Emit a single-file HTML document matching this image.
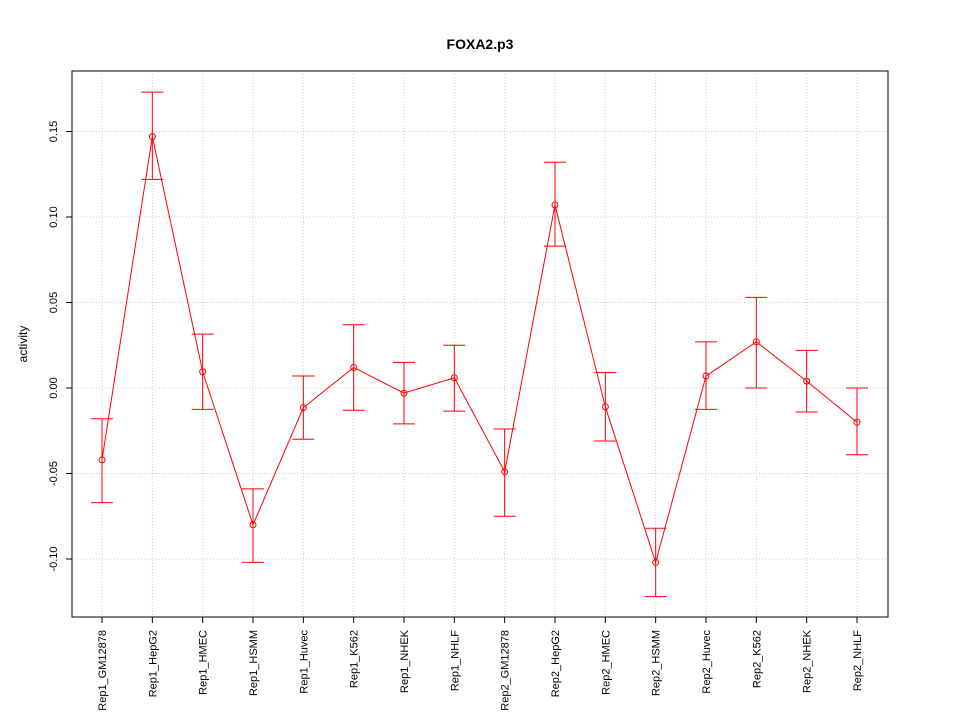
<!DOCTYPE html>
<html><head><meta charset="utf-8"><style>
html,body{margin:0;padding:0;background:#fff;}
svg{display:block;font-family:"Liberation Sans",Arial,sans-serif;}
</style></head><body>
<svg id="chart" width="960" height="720" viewBox="0 0 960 720">
<text x="480" y="49" text-anchor="middle" font-size="14" font-weight="bold">FOXA2.p3</text>
<text x="0" y="0" transform="translate(27,344) rotate(-90)" text-anchor="middle" font-size="12">activity</text>
<g id="grid"></g>
<g id="yaxis"></g>
<g id="xaxis"></g>
<g id="series"></g>
<rect x="72" y="71" width="816" height="546" fill="none" stroke="#000" stroke-width="1"/>
</svg>
<script>
const categories = ["Rep1_GM12878","Rep1_HepG2","Rep1_HMEC","Rep1_HSMM","Rep1_Huvec","Rep1_K562","Rep1_NHEK","Rep1_NHLF","Rep2_GM12878","Rep2_HepG2","Rep2_HMEC","Rep2_HSMM","Rep2_Huvec","Rep2_K562","Rep2_NHEK","Rep2_NHLF"];
const values = [-0.042,0.147,0.0095,-0.080,-0.0115,0.012,-0.003,0.006,-0.049,0.107,-0.011,-0.102,0.007,0.027,0.004,-0.020];
const upper = [-0.018,0.173,0.0315,-0.059,0.007,0.037,0.015,0.025,-0.024,0.132,0.009,-0.082,0.027,0.053,0.022,0.000];
const lower = [-0.067,0.122,-0.0125,-0.102,-0.030,-0.013,-0.021,-0.0135,-0.075,0.083,-0.031,-0.122,-0.0125,0.000,-0.014,-0.039];
const yTicks = [-0.10,-0.05,0.00,0.05,0.10,0.15];
const yTickLabels = ["-0.10","-0.05","0.00","0.05","0.10","0.15"];

const NS="http://www.w3.org/2000/svg";
function y(v){return 388 - v*1710;}
function x(i){return 102 + i*(857-102)/(categories.length-1);}
function mk(tag,attrs,parent){const e=document.createElementNS(NS,tag);for(const k in attrs)e.setAttribute(k,attrs[k]);parent.appendChild(e);return e;}
const grid=document.getElementById('grid'),ya=document.getElementById('yaxis'),xa=document.getElementById('xaxis'),se=document.getElementById('series');

yTicks.forEach((t,i)=>{
  const g=mk('line',{x1:72,x2:888,y1:y(t),y2:y(t),stroke:'#ccc','stroke-dasharray':'1,2'},grid);
  
  
  const tk=mk('line',{x1:66,x2:72,y1:y(t),y2:y(t),stroke:'#000'},ya);
  
  
  const tx=mk('text',{transform:`translate(57,${y(t)}) rotate(-90)`,'text-anchor':'middle','font-size':'11'},ya);
  tx.textContent=yTickLabels[i];
  
  
});
categories.forEach((c,i)=>{
  const g=mk('line',{x1:x(i),x2:x(i),y1:71,y2:617,stroke:'#ccc','stroke-dasharray':'1,2'},grid);
  
  
  const tk=mk('line',{x1:x(i),x2:x(i),y1:617,y2:623,stroke:'#000'},xa);
  
  
  const tx=mk('text',{transform:`translate(${x(i)+4},630) rotate(-90)`,'text-anchor':'end','font-size':'11'},xa);
  tx.textContent=c;
  
  
});
const pts=values.map((v,i)=>x(i)+','+y(v)).join(' ');
const pl=mk('polyline',{points:pts,fill:'none',stroke:'#f00','stroke-width':1},se);


values.forEach((v,i)=>{
  const cx=x(i);
  const eb=mk('path',{d:`M${cx},${y(upper[i])}V${y(lower[i])}M${cx-11},${y(upper[i])}H${cx+11}M${cx-11},${y(lower[i])}H${cx+11}`,stroke:'#f00',fill:'none'},se);
  
  
  const p=mk('circle',{cx:cx,cy:y(v),r:3,fill:'none',stroke:'#f00'},se);
  
  
});
</script>
</body></html>
